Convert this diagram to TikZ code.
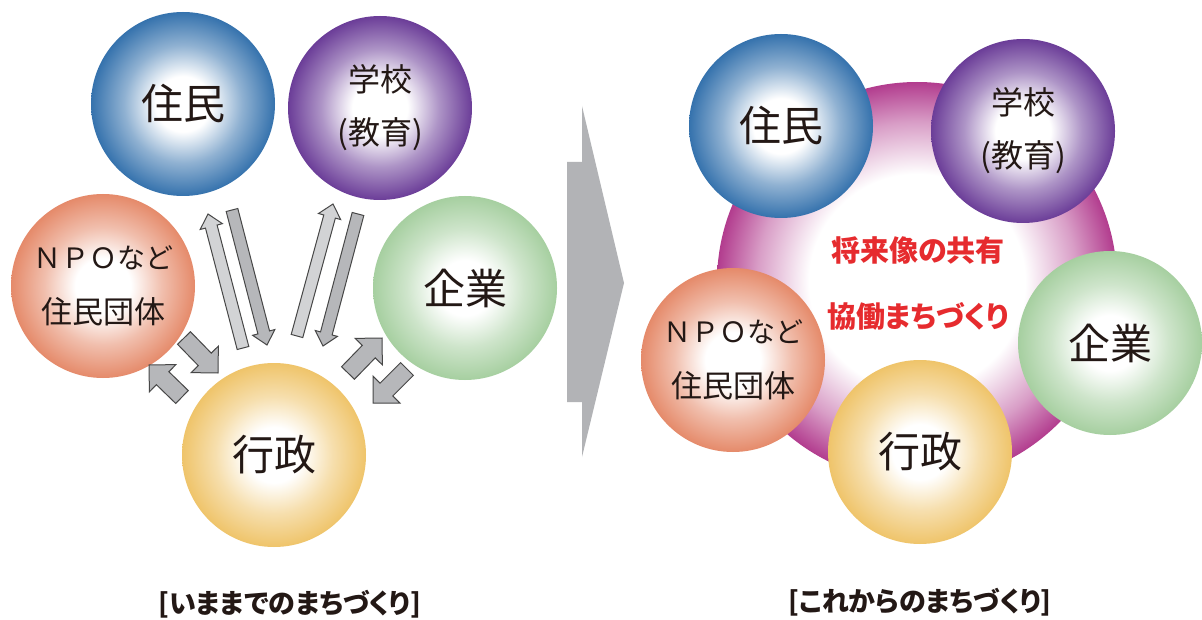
\documentclass[tikz,border=0pt]{standalone}
\usepackage{fontspec}
\newfontfamily\jp{Noto Sans CJK JP}
\newfontfamily\jpp[RawFeature=+palt]{Noto Sans CJK JP}
\usetikzlibrary{calc}
\definecolor{cblue}{HTML}{3572AD}
\definecolor{cpurple}{HTML}{6B3D98}
\definecolor{corange}{HTML}{E58A6A}
\definecolor{cgreen}{HTML}{A6CFA0}
\definecolor{cyellow}{HTML}{EFC46A}
\definecolor{ringc}{HTML}{B23C8E}
\definecolor{cred}{HTML}{E62B2E}
\definecolor{ctext}{HTML}{231815}
\definecolor{agray}{HTML}{B6B7BA}
\definecolor{alight}{HTML}{D2D3D5}
\definecolor{bigarrow}{HTML}{B2B3B6}
\colorlet{ballcol}{cblue}
\pgfdeclareradialshading[ballcol]{ballshade}{\pgfpoint{0bp}{0bp}}{color(0bp)=(white); color(7.5bp)=(white); color(16bp)=(ballcol!55); color(25bp)=(ballcol); color(50bp)=(ballcol)}
\pgfdeclareradialshading{ringshade}{\pgfpoint{0bp}{0bp}}{color(0bp)=(white); color(13.5bp)=(white); color(20bp)=(ringc!50); color(25bp)=(ringc); color(50bp)=(ringc)}
\newcommand\blockarrow[6]{%
  \coordinate (bah) at ($(#3)!#6!(#2)$);
  \draw[#1] ($(#2)!#4!90:(#3)$) -- ($(bah)!#4!90:(#3)$) -- ($(bah)!#5!90:(#3)$) -- (#3)
    -- ($(bah)!#5!-90:(#3)$) -- ($(bah)!#4!-90:(#3)$) -- ($(#2)!#4!-90:(#3)$) -- cycle;}
\tikzset{
  ballcolor/.code={\colorlet{ballcol}{#1}},
  ball/.style={circle, minimum size=184pt, inner sep=0pt, shading=ballshade, ballcolor=#1, text=ctext, align=center, font=\jp},
  big/.style={font=\jp\fontsize{42}{50}\selectfont},
  school/.style={font=\jp\fontsize{32}{53}\selectfont},
  npo/.style={font=\jp\fontsize{28}{55}\selectfont},
  longdark/.style={fill=agray, draw=black!72, line width=1pt, line join=miter},
  longlight/.style={fill=alight, draw=black!72, line width=1pt, line join=miter},
  fat/.style={fill=agray, draw=black!72, line width=1pt, line join=miter},
  redtxt/.style={text=cred, font=\jpp\bfseries\fontsize{29}{34}\selectfont},
  caption/.style={text=ctext, font=\jpp\bfseries\fontsize{27}{32}\selectfont}
}
\begin{document}
\begin{tikzpicture}[x=1pt,y=-1pt]
\useasboundingbox (0,0) rectangle (1202,620);
\fill[white] (0,0) rectangle (1202,620);

% ---------- left: いままでのまちづくり
\node[ball=cblue, big] (lj) at (183,104) {住民};
\node[ball=cpurple, school] (lg) at (380,108) {学校\\(教育)};
\node[ball=corange, npo] (ln) at (103,286) {ＮＰＯなど\\{\fontsize{31}{55}\selectfont 住民団体}};
\node[ball=cgreen, big] (lk) at (465,288) {企業};
\node[ball=cyellow, big] (lgy) at (274,455) {行政};

% long arrows
\coordinate (a1s) at (243,348); \coordinate (a1e) at (208,214);
\coordinate (a2s) at (232,210); \coordinate (a2e) at (267,345);
\coordinate (a3s) at (297,336); \coordinate (a3e) at (333,204);
\coordinate (a4s) at (358,214); \coordinate (a4e) at (323,346);
\blockarrow{longlight}{a1s}{a1e}{6pt}{11.5pt}{13pt}
\blockarrow{longdark}{a2s}{a2e}{6pt}{11.5pt}{13pt}
\blockarrow{longlight}{a3s}{a3e}{6pt}{11.5pt}{13pt}
\blockarrow{longdark}{a4s}{a4e}{6pt}{11.5pt}{13pt}
% fat arrows
\coordinate (b1s) at (184,338); \coordinate (b1e) at (218,373);
\coordinate (b2s) at (182,397); \coordinate (b2e) at (149,365);
\coordinate (b3s) at (348,373); \coordinate (b3e) at (382,338);
\coordinate (b4s) at (407,369); \coordinate (b4e) at (373,403);
\blockarrow{fat}{b1s}{b1e}{9pt}{19pt}{19pt}
\blockarrow{fat}{b2s}{b2e}{9pt}{19pt}{19pt}
\blockarrow{fat}{b3s}{b3e}{9pt}{19pt}{19pt}
\blockarrow{fat}{b4s}{b4e}{9pt}{19pt}{19pt}

\node[caption] (capl) at (290,604) {[いままでのまちづくり]};

% ---------- big arrow
\fill[bigarrow] (567,162) -- (582,162) -- (582,106) -- (624,283) -- (582,457) -- (582,402) -- (567,402) -- cycle;

% ---------- right: これからのまちづくり
\shade[shading=ringshade] (917,282) circle[radius=200];
\node[redtxt] (r1) at (918,250) {将来像の共有};
\node[redtxt] (r2) at (918,316) {協働まちづくり};
\node[ball=cblue, big] (rj) at (781,126) {住民};
\node[ball=cpurple, school] (rg) at (1023,131) {学校\\(教育)};
\node[ball=corange, npo] (rn) at (733,360) {ＮＰＯなど\\{\fontsize{31}{55}\selectfont 住民団体}};
\node[ball=cgreen, big] (rk) at (1110,343) {企業};
\node[ball=cyellow, big] (rgy) at (920,452) {行政};

\node[caption] (capr) at (920,602) {[これからのまちづくり]};
\end{tikzpicture}
\end{document}
